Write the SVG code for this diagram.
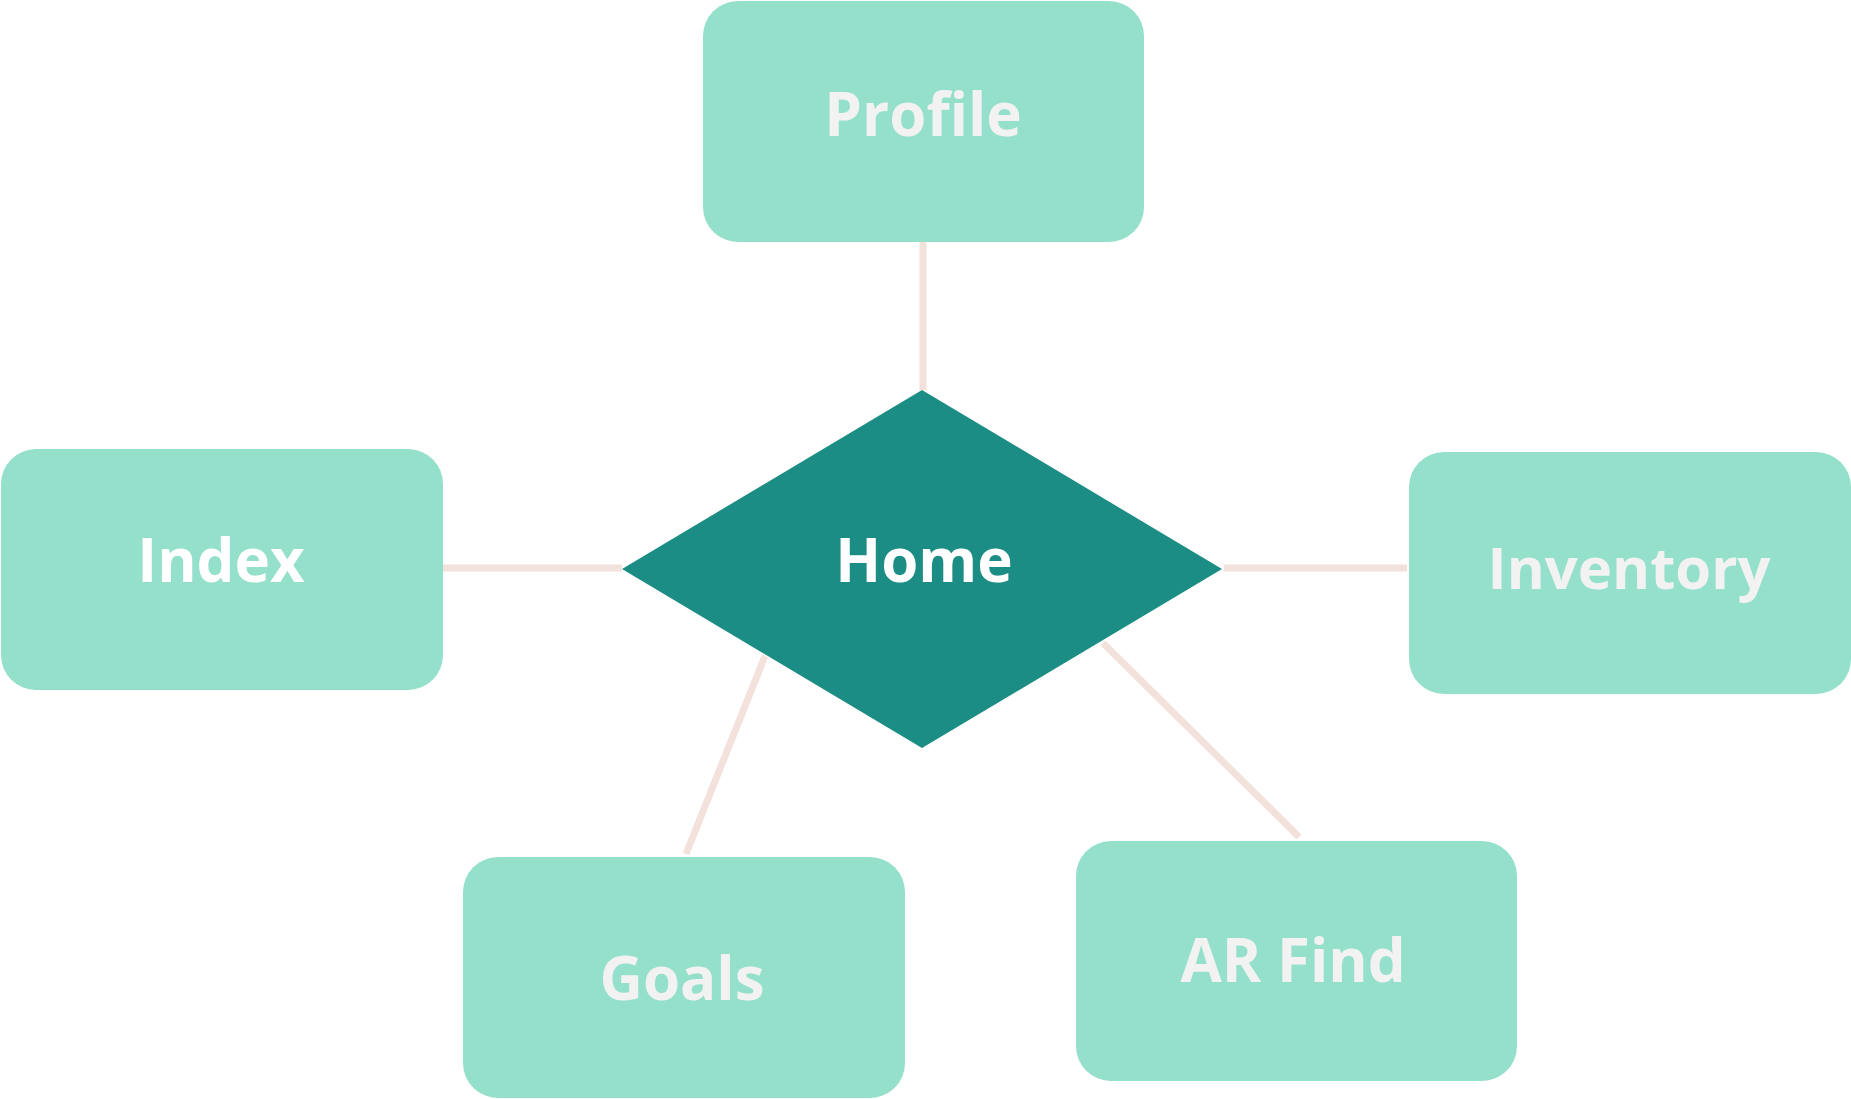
<svg xmlns="http://www.w3.org/2000/svg" width="1851" height="1099" viewBox="0 0 1851 1099">
<style>
.box{fill:#94e0cb;}
.dia{fill:#1c8d85;}
.lbl{font-family:"Open Sans","Liberation Sans",sans-serif;font-weight:700;font-size:60px;fill:#f2f2f2;text-anchor:middle;}
.wh{fill:#ffffff;}
.con{stroke:#f3e2dc;stroke-width:7;fill:none;}
</style>
<rect width="1851" height="1099" fill="#ffffff"/>
<g id="connectors">
<line class="con" x1="923" y1="242" x2="923" y2="390"/>
<line class="con" x1="443" y1="568" x2="622" y2="568"/>
<line class="con" x1="1224" y1="568" x2="1407" y2="568"/>
<line class="con" x1="765" y1="656" x2="686" y2="854"/>
<line class="con" x1="1103" y1="643" x2="1299" y2="837"/>
</g>
<g id="profile">
<rect class="box" x="703" y="1" width="441" height="241" rx="35" ry="35"/>
<text class="lbl" x="923" y="136">Profile</text>
</g>
<g id="index">
<rect class="box" x="1" y="449" width="442" height="241" rx="35" ry="35"/>
<text class="lbl wh" x="221" y="582">Index</text>
</g>
<g id="home">
<polygon class="dia" points="922,390 1222,569 922,748 622,569"/>
<text class="lbl wh" x="924" y="582">Home</text>
</g>
<g id="inventory">
<rect class="box" x="1409" y="452" width="442" height="242" rx="35" ry="35"/>
<text class="lbl" x="1629" y="589" style="font-size:58px">Inventory</text>
</g>
<g id="goals">
<rect class="box" x="463" y="857" width="442" height="241" rx="35" ry="35"/>
<text class="lbl" x="682" y="1000">Goals</text>
</g>
<g id="arfind">
<rect class="box" x="1076" y="841" width="441" height="240" rx="35" ry="35"/>
<text class="lbl" x="1293" y="982">AR Find</text>
</g>
</svg>
